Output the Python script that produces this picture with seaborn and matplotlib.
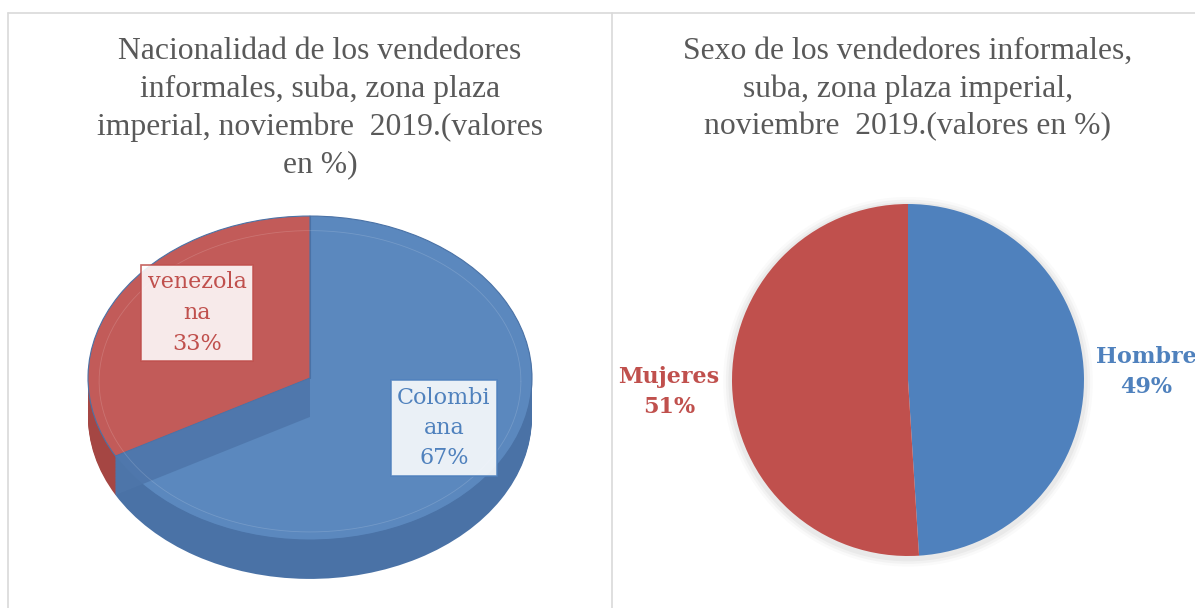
import numpy as np
import matplotlib
matplotlib.use("Agg")
import matplotlib.pyplot as plt
from matplotlib.patches import Polygon, Circle
from matplotlib.lines import Line2D
import seaborn as sns

# datos
nac_labels = ["Colombiana", "venezolana"]
nac_values = [67, 33]
nac_text = ["Colombi\nana\n67%", "venezola\nna\n33%"]

sexo_labels = ["Hombre", "Mujeres"]
sexo_values = [49, 51]

titulo_nac = "Nacionalidad de los vendedores\ninformales, suba, zona plaza\nimperial, noviembre  2019.(valores\nen %)"
titulo_sexo = "Sexo de los vendedores informales,\nsuba, zona plaza imperial,\nnoviembre  2019.(valores en %)"

azul = "#4F81BD"
rojo = "#C0504D"

sns.set_style("white")
plt.rcParams['font.family'] = ['DejaVu Sans']

W, H = 1195, 608
fig = plt.figure(figsize=(W / 100, H / 100), dpi=100)
fig.patch.set_facecolor("white")


def px_axes(x0, y0, x1, y1):
    return fig.add_axes([x0 / W, 1 - y1 / H, (x1 - x0) / W, (y1 - y0) / H])


# bordes de los paneles
for xs, ys in [([8 / W, 1], [1 - 13 / H, 1 - 13 / H]),
               ([8 / W, 8 / W], [0, 1 - 13 / H]),
               ([612 / W, 612 / W], [0, 1 - 13 / H])]:
    fig.add_artist(Line2D(xs, ys, color="#D9D9D9", lw=1.2))

# ---- pie 3D (nacionalidad)
ax1 = px_axes(60, 200, 560, 600)
depth = 0.24
colores_top = ["#5B88BE", "#C25B59"]
colores_lado = ["#4A72A6", "#A54643"]
n_capas = 26
for k in range(n_capas, 0, -1):
    off = -depth * k / n_capas
    ax1.pie(nac_values, colors=colores_lado, startangle=90, counterclock=False,
            center=(0, off), wedgeprops=dict(linewidth=0))
ax1.pie(nac_values, colors=colores_top, startangle=90, counterclock=False,
        wedgeprops=dict(linewidth=0.8, edgecolor="#4A72A6"))
# pared interior del sector azul
ang = np.deg2rad(90 - 360 * nac_values[0] / sum(nac_values))
pared = Polygon([(0, 0), (np.cos(ang), np.sin(ang)),
                 (np.cos(ang), np.sin(ang) - depth), (0, -depth)],
                closed=True, facecolor="#4E76AA", edgecolor="none", alpha=0.9)
ax1.add_patch(pared)
ax1.plot([0, 0], [0, 1], color="#4A72A6", lw=0.8)
th = np.linspace(0, 2 * np.pi, 300)
ax1.plot(0.95 * np.cos(th), 0.93 * np.sin(th) - 0.02, color="#ffffff", lw=0.6, alpha=0.15)
ax1.set_aspect("auto")
ax1.set_xlim(-250 / 222, 250 / 222)
ax1.set_ylim(1.099 - 400 / 162, 1.099)
ax1.axis("off")

fig.text(320 / W, 1 - 37 / H, titulo_nac, ha="center", va="top",
         fontsize=22.8, color="#595959", family="Liberation Serif", linespacing=1.37)

caja = dict(boxstyle="square,pad=0.3", facecolor="white", alpha=0.88, lw=1.2)
fig.text(444 / W, 1 - 428 / H, nac_text[0], ha="center", va="center", fontsize=16,
         color=azul, family="DejaVu Serif", linespacing=1.5,
         bbox=dict(caja, edgecolor=azul))
fig.text(197 / W, 1 - 313 / H, nac_text[1], ha="center", va="center", fontsize=16,
         color=rojo, family="DejaVu Serif", linespacing=1.5,
         bbox=dict(caja, edgecolor=rojo))

# ---- pie 2D (sexo)
ax2 = px_axes(720, 192, 1096, 568)
for r, a in [(1.05, 0.04), (1.035, 0.06), (1.02, 0.08)]:
    ax2.add_patch(Circle((0, -0.01), r, color="#808080", alpha=a, lw=0))
ax2.pie(sexo_values, colors=[azul, rojo], startangle=90, counterclock=False,
        wedgeprops=dict(linewidth=0))
ax2.set_xlim(-188 / 176, 188 / 176)
ax2.set_ylim(-188 / 176, 188 / 176)
ax2.set_aspect("equal")
ax2.axis("off")

fig.text(908 / W, 1 - 37 / H, titulo_sexo, ha="center", va="top",
         fontsize=22.8, color="#595959", family="Liberation Serif", linespacing=1.37)

fig.text(669 / W, 1 - 392 / H, f"{sexo_labels[1]}\n{sexo_values[1]}%", ha="center",
         va="center", fontsize=16, fontweight="bold", color=rojo,
         family="DejaVu Serif", linespacing=1.45)
fig.text(1146 / W, 1 - 372 / H, f"{sexo_labels[0]}\n{sexo_values[0]}%", ha="center",
         va="center", fontsize=16, fontweight="bold", color=azul,
         family="DejaVu Serif", linespacing=1.45)

plt.savefig("out.png", dpi=100, facecolor="white")
